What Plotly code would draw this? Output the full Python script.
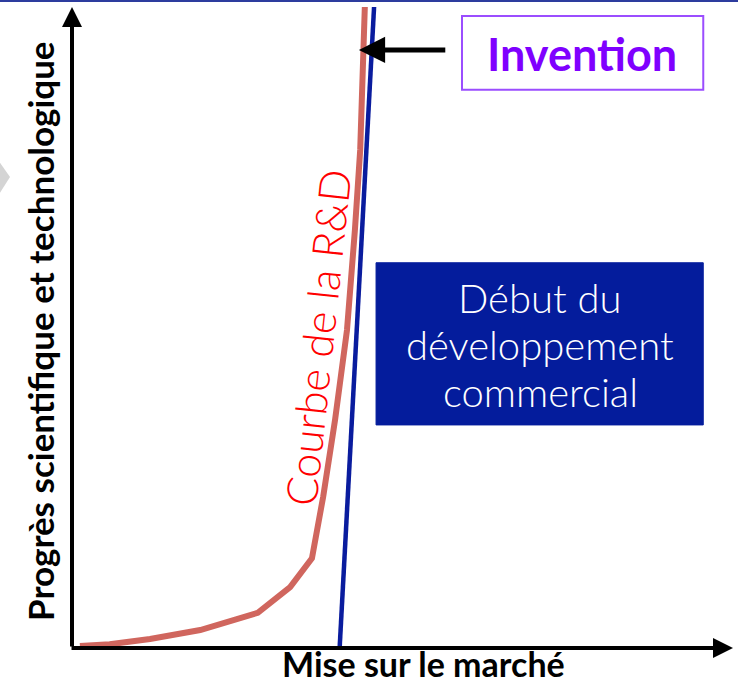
import plotly.graph_objects as go

# R&D curve (x: mise sur le marché, y: progrès), in 0-100 units
rd_x = [1.2, 5.7, 11.8, 19.4, 28.1, 33.0, 36.3, 38.0, 39.8, 41.6, 42.8, 43.6, 44.3]
rd_y = [0.3, 0.6, 1.4, 2.8, 5.5, 9.5, 14.0, 23.6, 35.6, 49.6, 65.2, 77.7, 100.0]

# Commercial development line
dev_x = [40.5, 45.7]
dev_y = [0.2, 100.0]

y_title = "Progrès scientifique et technologique"
x_title = "Mise sur le marché"
curve_label = "Courbe de la R&D"
invention_label = "Invention"
dev_lines = ["Début du", "développement", "commercial"]

L, T, W, H = 72, 7, 661, 641  # plot area in pixels


def px(xp):
    return (xp - L) / W


def py(yp):
    return (T + H - yp) / H


fig = go.Figure()
fig.add_trace(go.Scatter(x=rd_x, y=rd_y, mode="lines",
                         line=dict(color="#d0665e", width=6),
                         hoverinfo="skip", showlegend=False))
fig.add_trace(go.Scatter(x=dev_x, y=dev_y, mode="lines",
                         line=dict(color="#0a1c9e", width=4.5),
                         hoverinfo="skip", showlegend=False))

shapes = [
    dict(type="rect", xref="x", yref="y", x0=46.0, x1=95.5, y0=34.8, y1=60.1,
         fillcolor="#041c9c", line=dict(color="#041c9c", width=1), layer="below"),
    dict(type="rect", xref="x", yref="y", x0=59.0, x1=95.5, y0=87.1, y1=98.6,
         fillcolor="white", line=dict(color="#9b4dff", width=2)),
    dict(type="line", xref="paper", yref="paper", x0=px(0), x1=px(738),
         y0=py(1), y1=py(1), line=dict(color="#2d3c9e", width=2)),
    dict(type="path", xref="paper", yref="paper",
         path=f"M {px(-2)},{py(160)} L {px(10)},{py(177)} L {px(-2)},{py(196)} Z",
         fillcolor="#d4d4d4", line=dict(color="#d4d4d4", width=0)),
]

annotations = [
    dict(x=0, y=100, ax=0, ay=0, xref="x", yref="y", axref="x", ayref="y",
         text="", showarrow=True, arrowhead=2, arrowsize=1, arrowwidth=4,
         arrowcolor="black", standoff=0),
    dict(x=100, y=0, ax=-0.3, ay=0, xref="x", yref="y", axref="x", ayref="y",
         text="", showarrow=True, arrowhead=2, arrowsize=1, arrowwidth=4,
         arrowcolor="black", standoff=0),
    dict(x=43.4, y=93.3, ax=56.7, ay=93.3, xref="x", yref="y", axref="x", ayref="y",
         text="", showarrow=True, arrowhead=2, arrowsize=1.05, arrowwidth=5,
         arrowcolor="black", standoff=0),
    dict(x=77.2, y=92.7, xref="x", yref="y", text=invention_label, showarrow=False,
         xanchor="center", yanchor="middle",
         font=dict(family="Lato", size=45, color="#7f00ff", weight="bold")),
    dict(x=37.1, y=48.5, xref="x", yref="y", text=curve_label, showarrow=False,
         textangle=-84, xanchor="center", yanchor="middle",
         font=dict(family="Lato", size=43, color="#ff0000", weight=300)),
    dict(x=px(40), y=py(331), xref="paper", yref="paper", text=y_title,
         showarrow=False, textangle=-90, xanchor="center", yanchor="middle",
         font=dict(family="Lato", size=35, color="black", weight="bold")),
    dict(x=px(423), y=py(663), xref="paper", yref="paper", text=x_title,
         showarrow=False, xanchor="center", yanchor="middle",
         font=dict(family="Lato", size=34, color="black", weight="bold")),
]
for line, yc in zip(dev_lines, [298, 345, 392]):
    annotations.append(dict(x=px(540), y=py(yc), xref="paper", yref="paper",
                            text=line, showarrow=False,
                            xanchor="center", yanchor="middle",
                            font=dict(family="Lato", size=40, color="white",
                                      weight=300)))

fig.update_layout(
    width=738, height=680,
    margin=dict(l=L, r=738 - L - W, t=T, b=680 - T - H),
    paper_bgcolor="white", plot_bgcolor="white",
    xaxis=dict(range=[0, 100], visible=False, fixedrange=True),
    yaxis=dict(range=[0, 100], visible=False, fixedrange=True),
    shapes=shapes, annotations=annotations, showlegend=False,
)

fig.write_html("out.html", config={"displayModeBar": False},
               post_script="document.body.style.margin='0px';")
